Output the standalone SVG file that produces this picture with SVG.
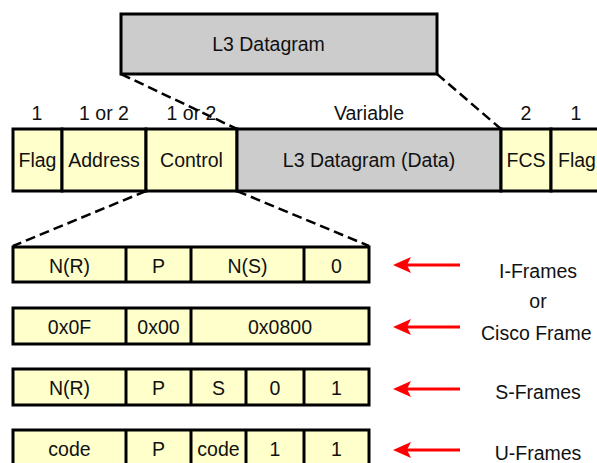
<svg xmlns="http://www.w3.org/2000/svg" width="597" height="463" viewBox="0 0 597 463">
<style>
text{font-family:"Liberation Sans",Arial,sans-serif;font-size:19.5px;fill:#111;text-anchor:middle}
.y{fill:#ffffcc;stroke:#000;stroke-width:3}
.g{fill:#cccccc;stroke:#000;stroke-width:3}
.d{stroke:#000;stroke-width:3}
.dash{stroke:#000;stroke-width:2.5;stroke-dasharray:10 5;fill:none}
.ar{stroke:#ff0000;stroke-width:3;fill:none}
.ah{fill:#ff0000}
</style>
<rect width="597" height="463" fill="#fff"/>
<g id="datagram">
<rect class="g" x="121" y="14" width="316" height="60"/>
<text x="268.5" y="51">L3 Datagram</text>
</g>
<g id="sizes">
<text x="37" y="120">1</text>
<text x="104" y="120">1 or 2</text>
<text x="191.5" y="120">1 or 2</text>
<text x="369" y="120">Variable</text>
<text x="526" y="120">2</text>
<text x="576" y="120">1</text>
</g>
<g id="frame">
<rect class="y" x="13" y="129" width="49" height="62"/>
<rect class="y" x="62" y="129" width="84" height="62"/>
<rect class="y" x="146" y="129" width="91" height="62"/>
<rect class="g" x="237" y="129" width="264" height="62"/>
<rect class="y" x="501" y="129" width="50" height="62"/>
<rect class="y" x="551" y="129" width="52" height="62"/>
<text x="37.5" y="167">Flag</text>
<text x="104" y="167">Address</text>
<text x="191.5" y="167">Control</text>
<text x="369" y="167">L3 Datagram (Data)</text>
<text x="526" y="167">FCS</text>
<text x="577" y="167">Flag</text>
</g>
<g id="iframe">
<rect class="y" x="13" y="247" width="356" height="35"/>
<line class="d" x1="126" y1="247" x2="126" y2="282"/>
<line class="d" x1="191" y1="247" x2="191" y2="282"/>
<line class="d" x1="304" y1="247" x2="304" y2="282"/>
<text x="69.5" y="273">N(R)</text>
<text x="158.5" y="273">P</text>
<text x="247.5" y="273">N(S)</text>
<text x="336.5" y="273">0</text>
</g>
<g id="ciscoframe">
<rect class="y" x="13" y="308" width="356" height="36"/>
<line class="d" x1="126" y1="308" x2="126" y2="344"/>
<line class="d" x1="191" y1="308" x2="191" y2="344"/>
<text x="69.5" y="334">0x0F</text>
<text x="158.5" y="334">0x00</text>
<text x="280" y="334">0x0800</text>
</g>
<g id="sframe">
<rect class="y" x="13" y="369" width="356" height="36"/>
<line class="d" x1="126" y1="369" x2="126" y2="405"/>
<line class="d" x1="191" y1="369" x2="191" y2="405"/>
<line class="d" x1="246" y1="369" x2="246" y2="405"/>
<line class="d" x1="304" y1="369" x2="304" y2="405"/>
<text x="69.5" y="395">N(R)</text>
<text x="158.5" y="395">P</text>
<text x="218.5" y="395">S</text>
<text x="275" y="395">0</text>
<text x="336.5" y="395">1</text>
</g>
<g id="uframe">
<rect class="y" x="13" y="430" width="356" height="40"/>
<line class="d" x1="126" y1="430" x2="126" y2="470"/>
<line class="d" x1="191" y1="430" x2="191" y2="470"/>
<line class="d" x1="246" y1="430" x2="246" y2="470"/>
<line class="d" x1="304" y1="430" x2="304" y2="470"/>
<text x="69.5" y="456">code</text>
<text x="158.5" y="456">P</text>
<text x="218.5" y="456">code</text>
<text x="275" y="456">1</text>
<text x="336.5" y="456">1</text>
</g>
<g id="labels">
<text x="538" y="278">I-Frames</text>
<text x="538" y="308">or</text>
<text x="481" y="340" style="text-anchor:start">Cisco Frame</text>
<text x="538" y="399">S-Frames</text>
<text x="538" y="460">U-Frames</text>
</g>
<g id="connectors">
<line class="dash" x1="121" y1="74" x2="237" y2="129"/>
<line class="dash" x1="437" y1="74" x2="501" y2="129"/>
<line class="dash" x1="146" y1="191" x2="13" y2="246"/>
<line class="dash" x1="237" y1="191" x2="369" y2="246"/>
<line class="ar" x1="407" y1="265" x2="460" y2="265"/>
<polygon class="ah" points="393,265 411,257 407,265 411,273"/>
<line class="ar" x1="407" y1="327" x2="460" y2="327"/>
<polygon class="ah" points="393,327 411,319 407,327 411,335"/>
<line class="ar" x1="407" y1="389" x2="460" y2="389"/>
<polygon class="ah" points="393,389 411,381 407,389 411,397"/>
<line class="ar" x1="407" y1="450" x2="460" y2="450"/>
<polygon class="ah" points="393,450 411,442 407,450 411,458"/>
</g>
</svg>
